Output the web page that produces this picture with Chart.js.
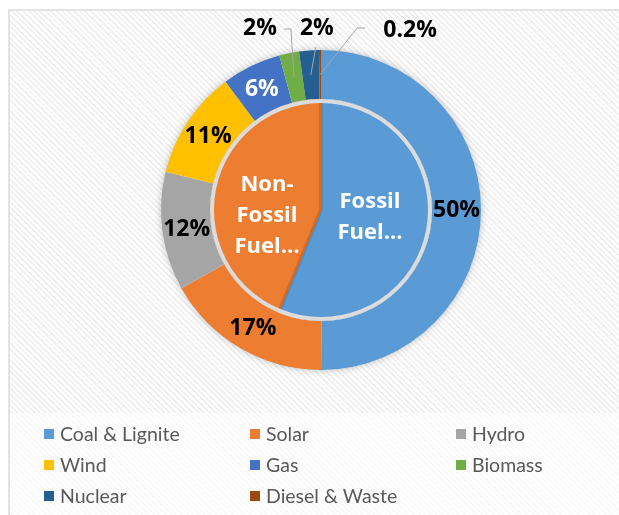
<!DOCTYPE html>
<html>
<head>
<meta charset="utf-8">
<title>Power generation mix</title>
<script src="https://cdn.jsdelivr.net/npm/chart.js@4.4.0/dist/chart.umd.min.js"></script>
<style>
    html, body { margin: 0; padding: 0; background: #fff; }
    body { width: 619px; height: 515px; overflow: hidden; position: relative; }
    #frame {
        position: absolute; left: 8px; top: 9px; width: 640px; height: 540px;
        border: 2px solid #e3e3e3;
        background: repeating-linear-gradient(45deg, #ffffff 0 2px, #f1f1f1 2px 4px);
    }
    #legendBand {
        position: absolute; left: 10px; top: 413px; width: 640px; height: 120px;
        background: repeating-linear-gradient(45deg, #ffffff 0 2px, #f9f9f9 2px 4px);
    }
    #chart { position: absolute; left: 0; top: 0; }
</style>
</head>
<body>
<div id="frame"></div>
<div id="legendBand"></div>
<canvas id="chart" width="619" height="515"></canvas>

<script>
// ---- data ----
const sourceLabels = ["Coal & Lignite", "Solar", "Hydro", "Wind", "Gas", "Biomass", "Nuclear", "Diesel & Waste"];
const sourceShares = [50, 17, 12, 11, 6, 2, 2, 0.2];
const sourceColors = ["#5B9BD5", "#ED7D31", "#A5A5A5", "#FFC000", "#4472C4", "#70AD47", "#255E91", "#9E480E"];

const fuelLabels = ["Fossil Fuel", "Non-Fossil Fuel"];
const fuelShares = [56.2, 43.8];
const fuelColors = ["#5B9BD5", "#ED7D31"];
const fuelBorders = ["#4F8CC6", "#D4691F"];
// how Excel cut the inner labels
const fuelLabelLines = [["Fossil", "Fuel…"], ["Non-", "Fossil", "Fuel…"]];

const LABEL_FONT = "'Open Sans', Lato, 'DejaVu Sans', sans-serif";
const LEGEND_FONT = "Lato, 'Open Sans', 'DejaVu Sans', sans-serif";

// soft shadow under the outer ring + grey rim around the inner pie
const ringDecor = {
    id: "ringDecor",
    beforeDatasetsDraw(chart) {
        const a = chart.getDatasetMeta(0).data[0];
        if (!a) return;
        const ctx = chart.ctx;
        ctx.save();
        ctx.beginPath();
        ctx.arc(a.x, a.y, a.outerRadius - 1, 0, Math.PI * 2);
        ctx.fillStyle = "#ffffff";
        ctx.shadowColor = "rgba(0,0,0,0.3)";
        ctx.shadowBlur = 9;
        ctx.fill();
        ctx.restore();
    },
    afterDatasetsDraw(chart) {
        const a = chart.getDatasetMeta(1).data[0];
        if (!a) return;
        const ctx = chart.ctx;
        ctx.save();
        ctx.beginPath();
        ctx.arc(a.x, a.y, a.outerRadius - 2, 0, Math.PI * 2);
        ctx.strokeStyle = "#dcdcdc";
        ctx.lineWidth = 4;
        ctx.stroke();
        ctx.restore();
    }
};

// percentage labels, callouts for the thin slices, inner labels
const sliceLabels = {
    id: "sliceLabels",
    afterDatasetsDraw(chart, args, opts) {
        const ctx = chart.ctx;
        const outer = chart.getDatasetMeta(0).data;
        const inner = chart.getDatasetMeta(1).data;

        ctx.save();
        ctx.font = `bold ${opts.size}px ${LABEL_FONT}`;
        ctx.textBaseline = "middle";
        ctx.textAlign = "center";

        outer.forEach((arc, i) => {
            const text = sourceShares[i] + "%";
            const mid = (arc.startAngle + arc.endAngle) / 2;
            const r = (arc.innerRadius + arc.outerRadius) / 2;
            const px = arc.x + Math.cos(mid) * r;
            const py = arc.y + Math.sin(mid) * r;
            const c = opts.callouts[i];

            if (!c) {
                ctx.fillStyle = opts.colors[i] || "#000";
                ctx.fillText(text, px, py + 1);
                return;
            }

            // leader line up above the ring
            const top = arc.y - arc.outerRadius;
            const ex = px + c.dx;
            const ey = top + c.dy;
            ctx.strokeStyle = "#a6a6a6";
            ctx.lineWidth = 1;
            ctx.beginPath();
            ctx.moveTo(px, py);
            ctx.lineTo(ex, ey);
            if (c.tail) ctx.lineTo(ex + c.tail, ey);
            ctx.stroke();

            ctx.fillStyle = "#000";
            ctx.fillText(text, ex + c.tx, ey + c.ty);
        });

        // inner pie labels, placed the way Excel put them
        ctx.font = `bold ${opts.innerSize}px ${LABEL_FONT}`;
        ctx.fillStyle = "#fff";
        inner.forEach((arc, i) => {
            const off = opts.innerOffsets[i];
            const cx = arc.x + off.x;
            const cy = arc.y + off.y;
            const lines = fuelLabelLines[i];
            const lh = opts.innerLine;
            lines.forEach((ln, k) => {
                ctx.fillText(ln, cx, cy + (k - (lines.length - 1) / 2) * lh);
            });
        });
        ctx.restore();
    }
};

// legend laid out in three fixed columns like the Excel one
const gridLegend = {
    id: "gridLegend",
    afterDraw(chart, args, opts) {
        const ctx = chart.ctx;
        ctx.save();
        ctx.font = `${opts.size}px ${LEGEND_FONT}`;
        ctx.textBaseline = "middle";
        ctx.textAlign = "left";
        sourceLabels.forEach((lbl, i) => {
            const col = i % opts.cols;
            const row = Math.floor(i / opts.cols);
            const x = opts.left + col * opts.colWidth;
            const y = opts.top + row * opts.rowHeight;
            ctx.fillStyle = sourceColors[i];
            ctx.fillRect(x, y - opts.box / 2, opts.box, opts.box);
            ctx.fillStyle = "#595959";
            ctx.fillText(lbl, x + opts.box + 6, y + 1);
        });
        ctx.restore();
    }
};

new Chart(document.getElementById("chart"), {
    type: "doughnut",
    data: {
        labels: sourceLabels,
        datasets: [
            {
                label: "Source",
                data: sourceShares,
                backgroundColor: sourceColors,
                borderWidth: 0,
                hoverBorderWidth: 0,
                hoverOffset: 0,
                weight: 49
            },
            {
                label: "Fuel type",
                data: fuelShares,
                backgroundColor: fuelColors,
                borderColor: fuelBorders,
                borderWidth: 2,
                borderAlign: "inner",
                hoverOffset: 0,
                weight: 111
            }
        ]
    },
    options: {
        responsive: false,
        animation: false,
        events: [],
        cutout: 0,
        layout: { padding: { left: 161, right: 138, top: 50, bottom: 145 } },
        plugins: {
            legend: { display: false },
            tooltip: { enabled: false },
            sliceLabels: {
                size: 23,
                innerSize: 22,
                colors: ["#000", "#000", "#000", "#000", "#fff"],
                callouts: {
                    5: { dx: -3, dy: -21, tail: -7, tx: -31, ty: -1 },
                    6: { dx: 5, dy: -3, tail: 0, tx: 1, ty: -19 },
                    7: { dx: 37, dy: -22, tail: 8, tx: 53, ty: 2 }
                },
                innerOffsets: [{ x: 49, y: 7 }, { x: -54, y: 6 }],
                innerLine: 31
            },
            gridLegend: {
                size: 19.5, cols: 3, left: 44, colWidth: 206,
                top: 434, rowHeight: 31, box: 10
            }
        }
    },
    plugins: [ringDecor, sliceLabels, gridLegend]
});
</script>
</body>
</html>
